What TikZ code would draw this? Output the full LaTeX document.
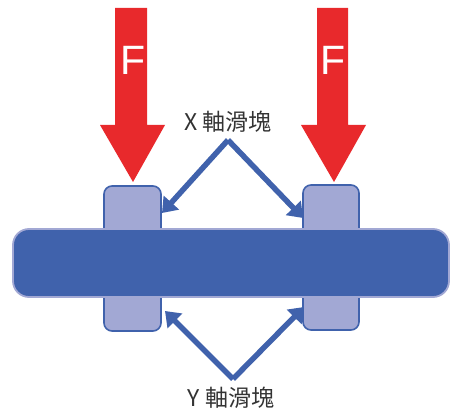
\documentclass[tikz,border=0pt]{standalone}
\usepackage{fontspec}
\setmainfont{Liberation Sans}
\newfontfamily\cjkfont{Noto Sans CJK TC}
\usetikzlibrary{arrows.meta}
\definecolor{fred}{HTML}{E8292C}
\definecolor{slfill}{HTML}{A2A8D4}
\definecolor{blueD}{HTML}{4062AC}
\definecolor{txtgray}{HTML}{333333}
\tikzset{
  force/.style={fill=fred,draw=none},
  slider/.style={fill=slfill,draw=blueD,line width=1.6pt,rounded corners=8pt},
  bar/.style={fill=blueD,draw=slfill,line width=1.8pt,rounded corners=16pt},
  ptr/.style={draw=blueD,line width=5.5pt,-{Triangle[length=14pt,width=20pt]},shorten >=0pt},
  lbl/.style={font=\cjkfont\fontsize{23}{26}\selectfont,text=txtgray,inner sep=0pt},
  flbl/.style={font=\fontsize{41}{44}\selectfont,text=white,inner sep=0pt}
}
\begin{document}
\begin{tikzpicture}[x=1pt,y=-1pt]
\useasboundingbox (0,0) rectangle (452,414);
% force arrows
\fill[force] (115,8) -- (147,8) -- (147,125) -- (165,125) -- (133,182) -- (100,125) -- (115,125) -- cycle;
\fill[force] (317,8) -- (348,8) -- (348,125) -- (366,125) -- (334,182) -- (301,125) -- (317,125) -- cycle;
\node[flbl] (f1) at (133,60) {F};
\node[flbl] (f2) at (333,60) {F};
% sliders
\draw[slider] (104,186) rectangle (161,331);
\draw[slider] (303,185) rectangle (359,330);
% bar
\draw[bar] (13,229) rectangle (449,297);
% labels
\node[lbl] (xl) at (228,122) {X 軸滑塊};
\node[lbl] (yl) at (231,398) {Y 軸滑塊};
\coordinate (xv) at (228,140);
\coordinate (yv) at (233,379);
\coordinate (xt1) at (162,213);
\coordinate (xt2) at (303,218);
\coordinate (yt1) at (165,311);
\coordinate (yt2) at (304,307);
\draw[ptr] (xv) -- (xt1);
\draw[ptr] (xv) -- (xt2);
\draw[ptr] (yv) -- (yt1);
\draw[ptr] (yv) -- (yt2);
\end{tikzpicture}
\end{document}
